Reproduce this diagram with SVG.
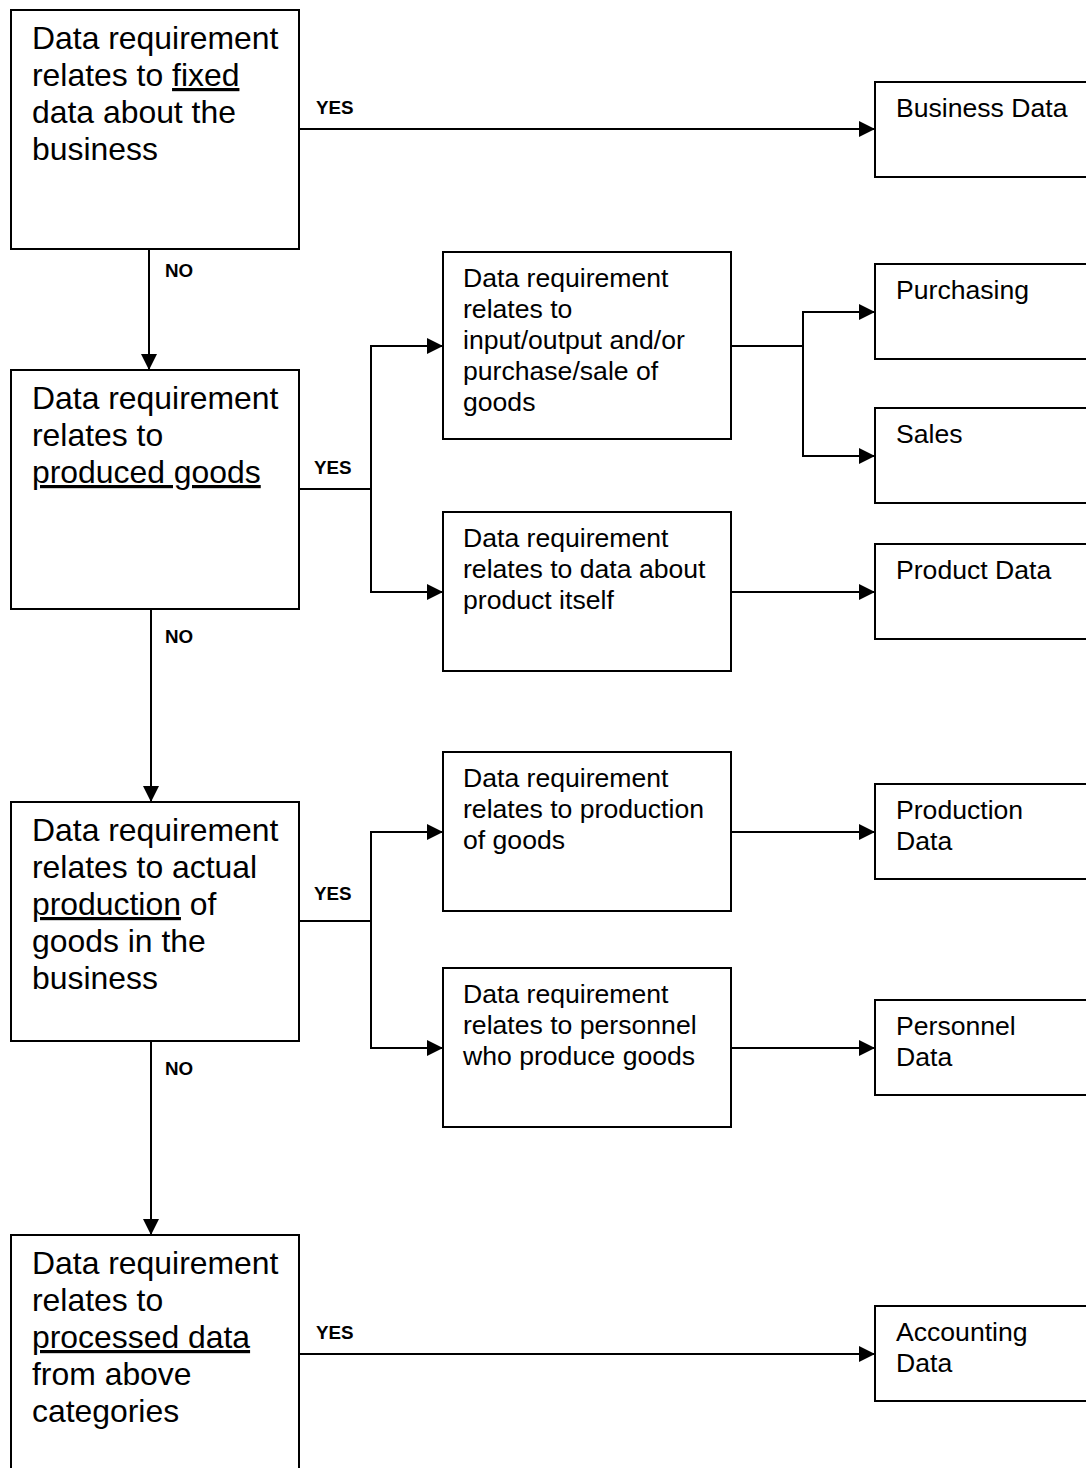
<svg xmlns="http://www.w3.org/2000/svg" width="1086" height="1468" viewBox="0 0 1086 1468">
<style>
.box{fill:#fff;stroke:#000;stroke-width:2}
.big{font-family:"Liberation Sans",Arial,sans-serif;font-size:31.9px;fill:#000}
.med{font-family:"Liberation Sans",Arial,sans-serif;font-size:26.6px;fill:#000}
.lbl{font-family:"Liberation Sans",Arial,sans-serif;font-size:18.8px;font-weight:bold;fill:#000}
.u{text-decoration:underline}
.c{fill:none;stroke:#000;stroke-width:2}
</style>
<defs>
<marker id="ah" viewBox="0 0 16 16" refX="16" refY="8" markerWidth="16" markerHeight="16" markerUnits="userSpaceOnUse" orient="auto">
<path d="M0,0 L16,8 L0,16 Z" fill="#000"/>
</marker>
</defs>
<rect width="1086" height="1468" fill="#fff"/>
<g id="connectors">
<path class="c" d="M299,129 H875" marker-end="url(#ah)"/>
<path class="c" d="M149,249 V370" marker-end="url(#ah)"/>
<path class="c" d="M299,489 H371"/>
<path class="c" d="M371,489 V346 H443" marker-end="url(#ah)"/>
<path class="c" d="M371,489 V592 H443" marker-end="url(#ah)"/>
<path class="c" d="M731,346 H803"/>
<path class="c" d="M803,346 V312 H875" marker-end="url(#ah)"/>
<path class="c" d="M803,346 V456 H875" marker-end="url(#ah)"/>
<path class="c" d="M731,592 H875" marker-end="url(#ah)"/>
<path class="c" d="M151,609 V802" marker-end="url(#ah)"/>
<path class="c" d="M299,921 H371"/>
<path class="c" d="M371,921 V832 H443" marker-end="url(#ah)"/>
<path class="c" d="M371,921 V1048 H443" marker-end="url(#ah)"/>
<path class="c" d="M731,832 H875" marker-end="url(#ah)"/>
<path class="c" d="M731,1048 H875" marker-end="url(#ah)"/>
<path class="c" d="M151,1041 V1235" marker-end="url(#ah)"/>
<path class="c" d="M299,1354 H875" marker-end="url(#ah)"/>
<text class="lbl" x="316" y="114">YES</text>
<text class="lbl" x="165" y="277">NO</text>
<text class="lbl" x="314" y="474">YES</text>
<text class="lbl" x="165" y="643">NO</text>
<text class="lbl" x="314" y="900">YES</text>
<text class="lbl" x="165" y="1075">NO</text>
<text class="lbl" x="316" y="1339">YES</text>
</g>
<g id="q1">
<rect class="box" x="11" y="10" width="288" height="239"/>
<text class="big" x="32" y="49">Data requirement</text>
<text class="big" x="32" y="86">relates to <tspan class="u">fixed</tspan></text>
<text class="big" x="32" y="123">data about the</text>
<text class="big" x="32" y="160">business</text>
</g>
<g id="q2">
<rect class="box" x="11" y="370" width="288" height="239"/>
<text class="big" x="32" y="409">Data requirement</text>
<text class="big" x="32" y="446">relates to</text>
<text class="big" x="32" y="483"><tspan class="u">produced goods</tspan></text>
</g>
<g id="q3">
<rect class="box" x="11" y="802" width="288" height="239"/>
<text class="big" x="32" y="841">Data requirement</text>
<text class="big" x="32" y="878">relates to actual</text>
<text class="big" x="32" y="915"><tspan class="u">production</tspan> of</text>
<text class="big" x="32" y="952">goods in the</text>
<text class="big" x="32" y="989">business</text>
</g>
<g id="q4">
<rect class="box" x="11" y="1235" width="288" height="260"/>
<text class="big" x="32" y="1274">Data requirement</text>
<text class="big" x="32" y="1311">relates to</text>
<text class="big" x="32" y="1348"><tspan class="u">processed data</tspan></text>
<text class="big" x="32" y="1385">from above</text>
<text class="big" x="32" y="1422">categories</text>
</g>
<g id="m1">
<rect class="box" x="443" y="252" width="288" height="187"/>
<text class="med" x="463" y="287">Data requirement</text>
<text class="med" x="463" y="318">relates to</text>
<text class="med" x="463" y="349">input/output and/or</text>
<text class="med" x="463" y="380">purchase/sale of</text>
<text class="med" x="463" y="411">goods</text>
</g>
<g id="m2">
<rect class="box" x="443" y="512" width="288" height="159"/>
<text class="med" x="463" y="547">Data requirement</text>
<text class="med" x="463" y="578">relates to data about</text>
<text class="med" x="463" y="609">product itself</text>
</g>
<g id="m3">
<rect class="box" x="443" y="752" width="288" height="159"/>
<text class="med" x="463" y="787">Data requirement</text>
<text class="med" x="463" y="818">relates to production</text>
<text class="med" x="463" y="849">of goods</text>
</g>
<g id="m4">
<rect class="box" x="443" y="968" width="288" height="159"/>
<text class="med" x="463" y="1003">Data requirement</text>
<text class="med" x="463" y="1034">relates to personnel</text>
<text class="med" x="463" y="1065">who produce goods</text>
</g>
<g id="r-business">
<rect class="box" x="875" y="82" width="240" height="95"/>
<text class="med" x="896" y="117">Business Data</text>
</g>
<g id="r-purchasing">
<rect class="box" x="875" y="264" width="240" height="95"/>
<text class="med" x="896" y="299">Purchasing</text>
</g>
<g id="r-sales">
<rect class="box" x="875" y="408" width="240" height="95"/>
<text class="med" x="896" y="443">Sales</text>
</g>
<g id="r-product">
<rect class="box" x="875" y="544" width="240" height="95"/>
<text class="med" x="896" y="579">Product Data</text>
</g>
<g id="r-production">
<rect class="box" x="875" y="784" width="240" height="95"/>
<text class="med" x="896" y="819">Production</text>
<text class="med" x="896" y="850">Data</text>
</g>
<g id="r-personnel">
<rect class="box" x="875" y="1000" width="240" height="95"/>
<text class="med" x="896" y="1035">Personnel</text>
<text class="med" x="896" y="1066">Data</text>
</g>
<g id="r-accounting">
<rect class="box" x="875" y="1306" width="240" height="95"/>
<text class="med" x="896" y="1341">Accounting</text>
<text class="med" x="896" y="1372">Data</text>
</g>
</svg>
